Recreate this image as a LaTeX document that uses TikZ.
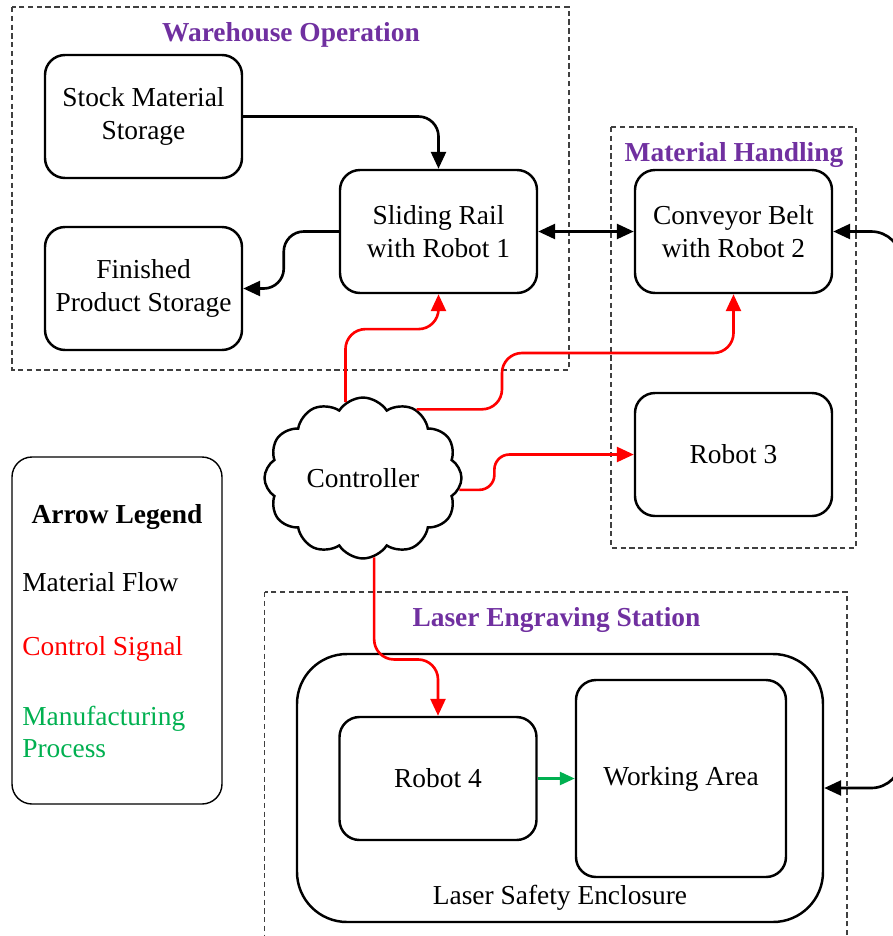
\documentclass[tikz,border=0pt]{standalone}
\usepackage{fontspec}
\setmainfont{Liberation Serif}
\usepackage{tikz}
\usetikzlibrary{positioning, shapes.symbols, arrows.meta}
\definecolor{titlepurple}{HTML}{7030A0}
\definecolor{procgreen}{HTML}{00B050}
\tikzstyle{unit} = [rectangle, rounded corners=0.4cm, minimum width=3.94cm, minimum height=2.46cm, text centered, align=center, draw=black, line width=1.4pt]
\tikzstyle{cloudnode} = [cloud, cloud puffs=12, cloud puff arc=115, aspect=1.25, minimum width=3.94cm, minimum height=3.2cm, draw=black, line width=1.4pt]
\tikzstyle{group} = [draw=black!75, line width=0.6pt, dash pattern=on 3pt off 2pt]
\tikzstyle{grouptitle} = [font=\fontsize{15.6}{18.7}\selectfont\bfseries, text=titlepurple]
\tikzstyle{tip} = [>={Triangle[length=0.34cm,width=0.3cm]}]
\tikzstyle{flow} = [tip, line width=1.5pt, ->, rounded corners=0.4cm]
\tikzstyle{signal} = [flow, red]
\tikzstyle{process} = [line width=1.5pt, -{Triangle[length=0.3cm,width=0.26cm]}, procgreen]

\begin{document}
\begin{tikzpicture}[node distance=3cm, font=\fontsize{15.6}{18.7}\selectfont]
\useasboundingbox (0,0) rectangle (17.86,-18.72);
\clip (0,0) rectangle (17.86,-18.72);

% groups
\draw [group] (0.24,-0.14) rectangle (11.38,-7.40);
\node (whtitle) [grouptitle] at (5.82,-0.7) {Warehouse Operation};
\draw [group] (12.22,-2.54) rectangle (17.12,-10.96);
\node (mhtitle) [grouptitle] at (14.68,-3.1) {Material Handling};
\draw [group] (5.29,-11.84) rectangle (16.94,-19.2);
\node (lestitle) [grouptitle] at (11.13,-12.4) {Laser Engraving Station};

% warehouse
\node (stock) [unit] at (2.87,-2.33) {Stock Material\\Storage};
\node (finished) [unit, below of=stock, yshift=-0.44cm] {Finished\\Product Storage};
\node (rail) [unit] at (8.77,-4.63) {Sliding Rail\\with Robot 1};

% material handling
\node (conveyor) [unit, right of=rail, xshift=2.9cm] {Conveyor Belt\\with Robot 2};
\node (robot3) [unit, below of=conveyor, yshift=-1.46cm] {Robot 3};

% controller
\node (ctrl) [cloudnode] at (7.26,-9.56) {Controller};

% laser station
\node (encl) [rectangle, rounded corners=1cm, minimum width=10.52cm, minimum height=5.36cm, draw=black, line width=1.4pt] at (11.2,-15.76) {};
\node (encllabel) at (11.2,-17.95) {Laser Safety Enclosure};
\node (robot4) [unit] at (8.76,-15.57) {Robot 4};
\node (work) [unit, minimum width=4.2cm, minimum height=3.94cm, right of=robot4, xshift=1.86cm] {Working Area};

% legend
\node (legend) [rectangle, rounded corners=0.4cm, minimum width=4.2cm, minimum height=6.94cm, draw=black, line width=0.8pt] at (2.34,-12.61) {};
\node (legtitle) [font=\fontsize{15.6}{18.7}\selectfont\bfseries] at (2.34,-10.34) {Arrow Legend};
\node (legflow) [anchor=west, inner sep=0pt] at (0.44,-11.64) {Material Flow};
\node (legsignal) [anchor=west, inner sep=0pt, text=red] at (0.44,-12.98) {Control Signal};
\node (legproc) [anchor=west, inner sep=0pt, text=procgreen, align=left] at (0.44,-14.64) {Manufacturing\\Process};

% material flow
\draw [flow] (stock.east) -| (rail.north);
\draw [flow] (rail.west) -- ++(-1.1,0) |- (finished.east);
\draw [flow, <->] (rail.east) -- (conveyor.west);
\draw [flow, <->, rounded corners=0.6cm] (conveyor.east) -- ++(1.36,0) |- (encl.east);

% control signals
\draw [signal] (ctrl.103) -- ++(0,1.46) -| (rail.south);
\draw [signal] (ctrl.52) -| (10.04,-7.06) -| (conveyor.south);
\draw [signal, rounded corners=0.3cm] (ctrl.-7) -- ++(0.7,0) |- (robot3.west);
\draw [signal] (ctrl.-82) -- ++(0,-2.04) -| (robot4.north);

% process
\draw [process] (robot4.east) -- (work.west);

\end{tikzpicture}
\end{document}
